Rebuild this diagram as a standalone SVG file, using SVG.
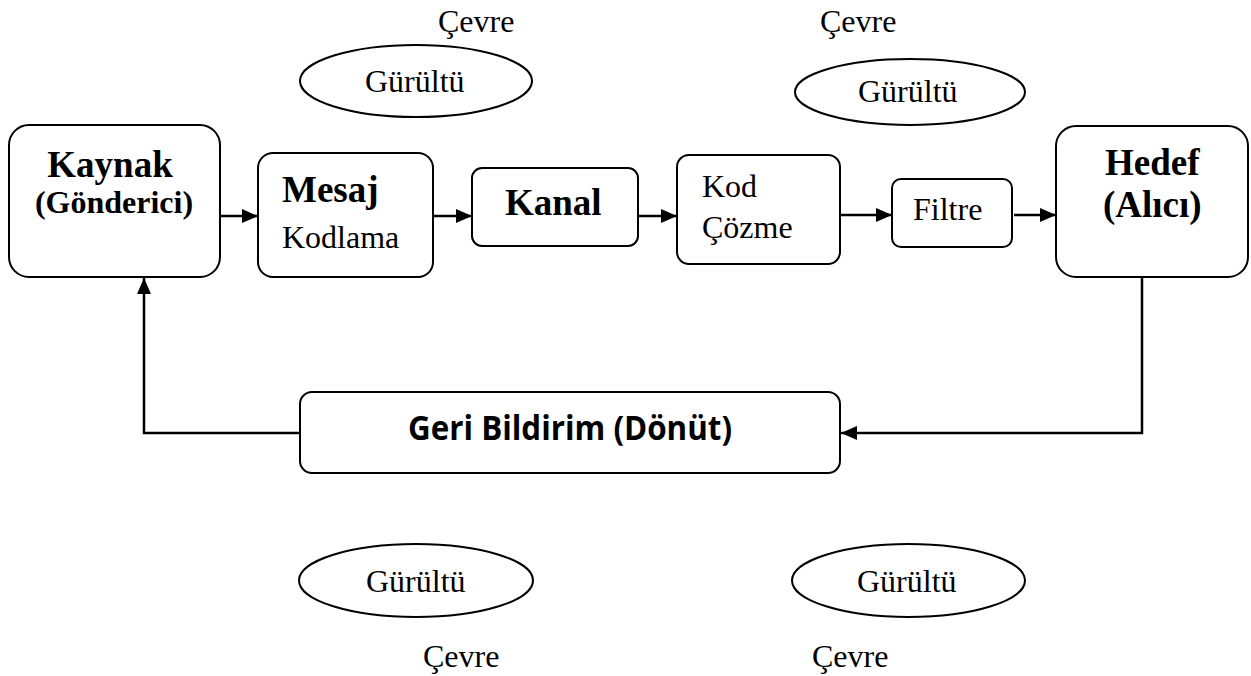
<svg xmlns="http://www.w3.org/2000/svg" width="1251" height="676" viewBox="0 0 1251 676">
<style>
.box{fill:#fff;stroke:#000;stroke-width:2}
.ell{fill:#fff;stroke:#000;stroke-width:2}
.ln{fill:none;stroke:#000;stroke-width:2.5}
.t{font-family:"Liberation Serif","Times New Roman",serif;font-size:32px;fill:#000}
.tb{font-family:"Liberation Serif","Times New Roman",serif;font-size:37px;font-weight:bold;fill:#000}
.tb2{font-family:"Liberation Serif","Times New Roman",serif;font-size:32px;font-weight:bold;fill:#000}
.ts{font-family:"Open Sans","Liberation Sans",sans-serif;font-size:34px;font-weight:bold;fill:#000}
</style>
<defs>
<marker id="ah" viewBox="0 0 16 14" refX="16" refY="7" markerWidth="16" markerHeight="14" markerUnits="userSpaceOnUse" orient="auto">
<path d="M0,0 L16,7 L0,14 Z" fill="#000"/>
</marker>
</defs>
<g id="env">
<text class="t" x="438" y="32">Çevre</text>
<text class="t" x="820" y="32">Çevre</text>
<text class="t" x="423" y="667">Çevre</text>
<text class="t" x="812" y="667">Çevre</text>
</g>
<g id="noise1"><ellipse class="ell" cx="416" cy="81" rx="116" ry="36"/><text class="t" x="365" y="92">Gürültü</text></g>
<g id="noise2"><ellipse class="ell" cx="910" cy="92" rx="115" ry="33"/><text class="t" x="858" y="102">Gürültü</text></g>
<g id="noise3"><ellipse class="ell" cx="416" cy="580.5" rx="117" ry="36.5"/><text class="t" x="366" y="592">Gürültü</text></g>
<g id="noise4"><ellipse class="ell" cx="908.5" cy="580.5" rx="116.5" ry="36.5"/><text class="t" x="857" y="592">Gürültü</text></g>
<g id="kaynak"><rect class="box" x="9" y="125" width="211" height="152" rx="20"/>
<text class="tb" x="110" y="177" text-anchor="middle">Kaynak</text>
<text class="tb2" x="114" y="213" text-anchor="middle">(Gönderici)</text></g>
<g id="mesaj"><rect class="box" x="258" y="153" width="175" height="124" rx="15"/>
<text class="tb" x="282" y="202">Mesaj</text>
<text class="t" x="282" y="248">Kodlama</text></g>
<g id="kanal"><rect class="box" x="472" y="168" width="166" height="78" rx="10"/>
<text class="tb" x="505" y="215">Kanal</text></g>
<g id="kod"><rect class="box" x="677" y="155" width="163" height="109" rx="12"/>
<text class="t" x="702" y="197">Kod</text>
<text class="t" x="702" y="238">Çözme</text></g>
<g id="filtre"><rect class="box" x="892" y="179" width="120" height="68" rx="9"/>
<text class="t" x="913" y="220">Filtre</text></g>
<g id="hedef"><rect class="box" x="1056" y="126" width="192" height="151" rx="20"/>
<text class="tb" x="1105" y="175">Hedef</text>
<text class="tb" x="1103" y="217">(Alıcı)</text></g>
<g id="geri"><rect class="box" x="300" y="392" width="540" height="81" rx="12"/>
<text class="ts" x="570" y="440" text-anchor="middle" textLength="324" lengthAdjust="spacingAndGlyphs">Geri Bildirim (Dönüt)</text></g>
<g id="connectors">
<line class="ln" x1="220" y1="216" x2="258" y2="216" marker-end="url(#ah)"/>
<line class="ln" x1="433" y1="216" x2="472" y2="216" marker-end="url(#ah)"/>
<line class="ln" x1="638" y1="216" x2="677" y2="216" marker-end="url(#ah)"/>
<line class="ln" x1="840" y1="215" x2="892" y2="215" marker-end="url(#ah)"/>
<line class="ln" x1="1014" y1="215" x2="1056" y2="215" marker-end="url(#ah)"/>
<polyline class="ln" points="1142,277 1142,433 841,433" marker-end="url(#ah)"/>
<polyline class="ln" points="300,433 144,433 144,278" marker-end="url(#ah)"/>
</g>
</svg>
